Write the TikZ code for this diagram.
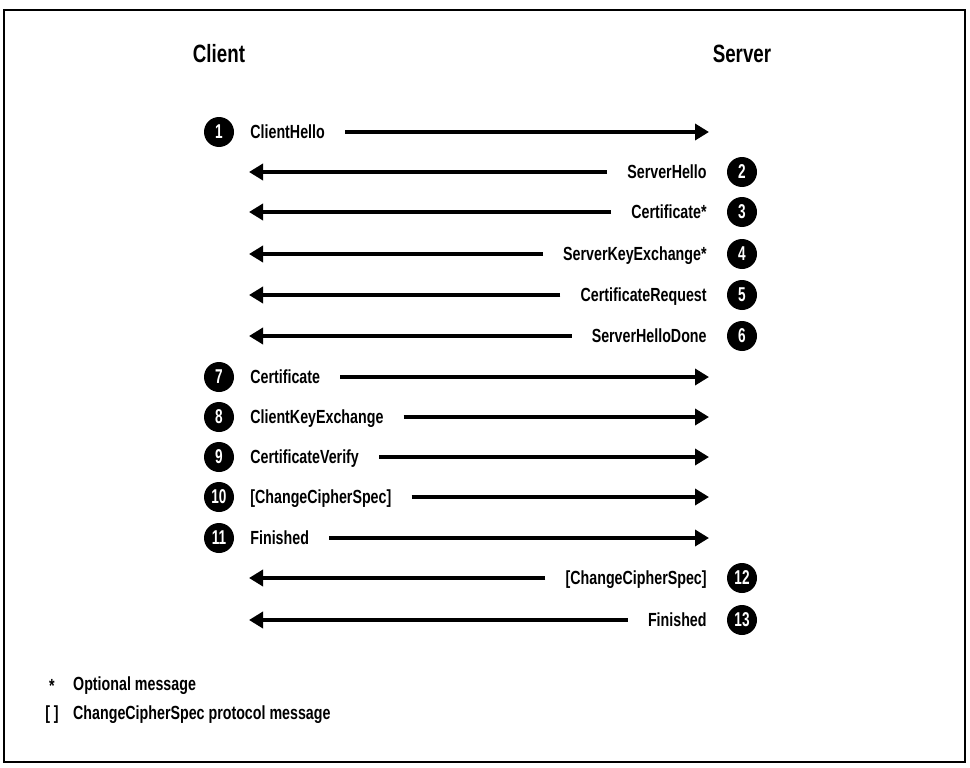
\documentclass[tikz,border=0pt]{standalone}
\usepackage{fontspec}
\setmainfont{Liberation Sans}[FakeStretch=0.75]
\newfontfamily\numfont{Liberation Sans}[FakeStretch=0.68]
\usetikzlibrary{%
	positioning,
	arrows.meta
}

\begin{document}
\begin{tikzpicture}[
		x=1pt,y=-1pt,
		party/.style={font=\bfseries\fontsize{25}{27}\selectfont,inner sep=0pt},
		num/.style={circle,fill=black,text=white,minimum size=30pt,inner sep=0pt,font=\numfont\bfseries\fontsize{20}{21}\selectfont},
		msg/.style={inner sep=0pt,text height=15pt,text depth=2pt,font=\bfseries\fontsize{19}{21}\selectfont},
		msgarrow/.style={line width=3.5pt,-{Triangle[length=14pt,width=16pt]}},
		legend/.style={inner sep=0pt,text height=15pt,text depth=2pt,font=\bfseries\fontsize{19}{21}\selectfont}
	]
	
		\useasboundingbox (0,0) rectangle (970,768);
		\draw [line width=1.2pt] (4,10) rectangle (965,762);
		
		\node(client) [party] at (219,54) {Client};
		\node(server) [party] at (742,54) {Server};
		
		\coordinate (cl) at (249,0);
		\coordinate (sv) at (709,0);
		
		%client to server
		\node(n1) [num] at (219,132) {1};
		\node(m1) [msg, right=16pt of n1] {ClientHello};
		\draw [msgarrow] ([xshift=20pt]m1.east) -- (m1.east -| sv);
		
		%server to client
		\node(n2) [num] at (742,172) {2};
		\node(m2) [msg, left=20pt of n2] {ServerHello};
		\draw [msgarrow] ([xshift=-20pt]m2.west) -- (m2.west -| cl);
		
		\node(n3) [num] at (742,212) {3};
		\node(m3) [msg, left=20pt of n3] {Certificate*};
		\draw [msgarrow] ([xshift=-20pt]m3.west) -- (m3.west -| cl);
		
		\node(n4) [num] at (742,254) {4};
		\node(m4) [msg, left=20pt of n4] {ServerKeyExchange*};
		\draw [msgarrow] ([xshift=-20pt]m4.west) -- (m4.west -| cl);
		
		\node(n5) [num] at (742,295) {5};
		\node(m5) [msg, left=20pt of n5] {CertificateRequest};
		\draw [msgarrow] ([xshift=-20pt]m5.west) -- (m5.west -| cl);
		
		\node(n6) [num] at (742,336) {6};
		\node(m6) [msg, left=20pt of n6] {ServerHelloDone};
		\draw [msgarrow] ([xshift=-20pt]m6.west) -- (m6.west -| cl);
		
		%client to server
		\node(n7) [num] at (219,377) {7};
		\node(m7) [msg, right=16pt of n7] {Certificate};
		\draw [msgarrow] ([xshift=20pt]m7.east) -- (m7.east -| sv);
		
		\node(n8) [num] at (219,417) {8};
		\node(m8) [msg, right=16pt of n8] {ClientKeyExchange};
		\draw [msgarrow] ([xshift=20pt]m8.east) -- (m8.east -| sv);
		
		\node(n9) [num] at (219,457) {9};
		\node(m9) [msg, right=16pt of n9] {CertificateVerify};
		\draw [msgarrow] ([xshift=20pt]m9.east) -- (m9.east -| sv);
		
		\node(n10) [num] at (219,497) {10};
		\node(m10) [msg, right=16pt of n10] {[ChangeCipherSpec]};
		\draw [msgarrow] ([xshift=20pt]m10.east) -- (m10.east -| sv);
		
		\node(n11) [num] at (219,538) {11};
		\node(m11) [msg, right=16pt of n11] {Finished};
		\draw [msgarrow] ([xshift=20pt]m11.east) -- (m11.east -| sv);
		
		%server to client
		\node(n12) [num] at (742,578) {12};
		\node(m12) [msg, left=20pt of n12] {[ChangeCipherSpec]};
		\draw [msgarrow] ([xshift=-20pt]m12.west) -- (m12.west -| cl);
		
		\node(n13) [num] at (742,620) {13};
		\node(m13) [msg, left=20pt of n13] {Finished};
		\draw [msgarrow] ([xshift=-20pt]m13.west) -- (m13.west -| cl);
		
		%legend
		\node(key1) [legend] at (52,686) {*};
		\node(txt1) [legend, anchor=west] at (73,684) {Optional message};
		\node(key2) [legend] at (52,713) {[ ]};
		\node(txt2) [legend, anchor=west] at (73,713) {ChangeCipherSpec protocol message};
		
	\end{tikzpicture}
\end{document}
